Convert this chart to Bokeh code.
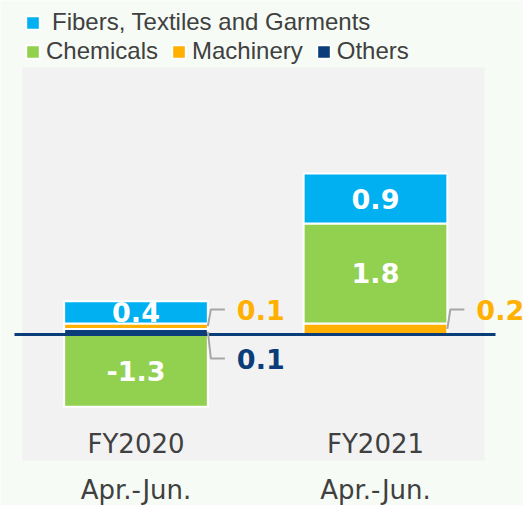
from bokeh.plotting import figure
from bokeh.models import Range1d, BoxAnnotation, Legend, LegendItem, ColumnDataSource
from bokeh.core.properties import value
from bokeh.embed import file_html
from bokeh.resources import INLINE
import numpy as np

# ---- data ----
categories = ["FY2020", "FY2021"]
periods = ["Apr.-Jun.", "Apr.-Jun."]
series_names = ["Fibers, Textiles and Garments", "Chemicals", "Machinery", "Others"]
fibers = [0.4, 0.9]
chemicals = [-1.3, 1.8]
machinery = [0.1, 0.2]
others = [0.1, 0.0]

# ---- style ----
C_FIB = "#00B0F0"
C_CHE = "#92D050"
C_MAC = "#FFB000"
C_OTH = "#0B3D7A"
C_TXT = "#404040"
C_BG = "#f6fbf5"
C_PANEL = "#f2f2f2"

W, H = 523, 505
ZERO_PX = 334          # screen y of zero
X0_PX = 135.5          # screen x of first category
UNIT_X = 239.5         # px per category step
UNIT_Y = 55.5          # px per value unit
x_lo, x_hi = -X0_PX / UNIT_X, (W - X0_PX) / UNIT_X
y_lo, y_hi = -(H - ZERO_PX) / UNIT_Y, ZERO_PX / UNIT_Y
PX = 1 / UNIT_X
PY = 1 / UNIT_Y
def sx(px):  # screen x -> data x
    return x_lo + px * PX
def sy(py):  # screen y -> data y
    return y_hi - py * PY
BAR_W = 0.6

xs = np.arange(len(categories), dtype=float)

p = figure(width=W, height=H, x_range=Range1d(x_lo, x_hi), y_range=Range1d(y_lo, y_hi),
           output_backend="svg", toolbar_location=None, min_border=0)
p.background_fill_color = C_BG
p.border_fill_color = C_BG
p.outline_line_color = None
p.xgrid.visible = False
p.ygrid.visible = False
p.xaxis.visible = False
p.yaxis.visible = False

# gray panel
p.add_layout(BoxAnnotation(left=sx(22), right=sx(484), top=sy(67), bottom=sy(460),
                           fill_color=C_PANEL, fill_alpha=1, line_color=None, level="underlay"))

# stacking: bottom -> top order Others, Machinery, Chemicals, Fibers
stack_order = [("Others", others, C_OTH), ("Machinery", machinery, C_MAC),
               ("Chemicals", chemicals, C_CHE), ("Fibers, Textiles and Garments", fibers, C_FIB)]
pos = np.zeros(len(categories))
neg = np.zeros(len(categories))
renderers = {}
segs = {}
for name, vals, col in stack_order:
    v = np.array(vals, dtype=float)
    bottoms = np.where(v >= 0, pos, neg + v)
    tops = np.where(v >= 0, pos + v, neg)
    pos = np.where(v >= 0, pos + v, pos)
    neg = np.where(v < 0, neg + v, neg)
    keep = v != 0
    src = ColumnDataSource(dict(x=xs[keep], bottom=bottoms[keep], top=tops[keep]))
    renderers[name] = p.vbar(x="x", bottom="bottom", top="top", width=BAR_W, source=src,
                             fill_color=col, line_color="white", line_width=2)
    segs[name] = (v, bottoms, tops)

# zero line
p.segment(x0=[sx(14)], x1=[sx(495)], y0=[0], y1=[0], line_color=C_OTH, line_width=3)

LABEL_FONT = value("DejaVu Sans")

# in-bar labels
for name in ["Fibers, Textiles and Garments", "Chemicals"]:
    v, b, t = segs[name]
    p.text(x=xs, y=(b + t) / 2, text=[f"{x:.1f}" for x in v],
           text_font=LABEL_FONT, text_font_style="bold", text_font_size="27px",
           text_color="white", text_align="center", text_baseline="middle")

# callouts
leader = "#a6a6a6"
def callout(name, color, up):
    v, b, t = segs[name]
    keep = v != 0
    xe = xs[keep] + BAR_W / 2
    ym = ((b + t) / 2)[keep]
    ly = np.full(keep.sum(), (25 if up else -24) * PY)
    xsl = [[x, x + 3 * PX, x + 17 * PX] for x in xe]
    ysl = [[y0, y1, y1] for y0, y1 in zip(ym, ly)]
    p.multi_line(xs=xsl, ys=ysl, line_color=leader, line_width=2)
    p.text(x=xe + 29 * PX, y=ly, text=[f"{x:.1f}" for x in v[keep]],
           text_font=LABEL_FONT, text_font_style="bold", text_font_size="27px",
           text_color=color, text_align="left", text_baseline="middle")

callout("Machinery", C_MAC, True)
callout("Others", C_OTH, False)

# category labels (two lines, second outside the panel)
p.text(x=xs, y=[sy(443)] * len(xs), text=categories,
       text_font=LABEL_FONT, text_font_size="26px", text_color=C_TXT,
       text_align="center", text_baseline="middle")
p.text(x=xs, y=[sy(489)] * len(xs), text=periods,
       text_font=LABEL_FONT, text_font_size="26px", text_color=C_TXT,
       text_align="center", text_baseline="middle")

# legends
def mk_legend(names, loc, orientation, standoff):
    lg = Legend(items=[LegendItem(label=n, renderers=[renderers[n]]) for n in names],
                location=loc, orientation=orientation,
                glyph_width=17, glyph_height=17, label_standoff=standoff, spacing=12,
                padding=0, margin=0, border_line_color=None, background_fill_alpha=0,
                label_text_font="Liberation Sans", label_text_font_size="24px",
                label_text_color=C_TXT, label_height=24)
    p.add_layout(lg)
    return lg

mk_legend(["Fibers, Textiles and Garments"], (24, H - 36), "vertical", 11)
mk_legend(["Chemicals", "Machinery", "Others"], (24, H - 65), "horizontal", 5)

open("out.html", "w").write(file_html(p, INLINE))
